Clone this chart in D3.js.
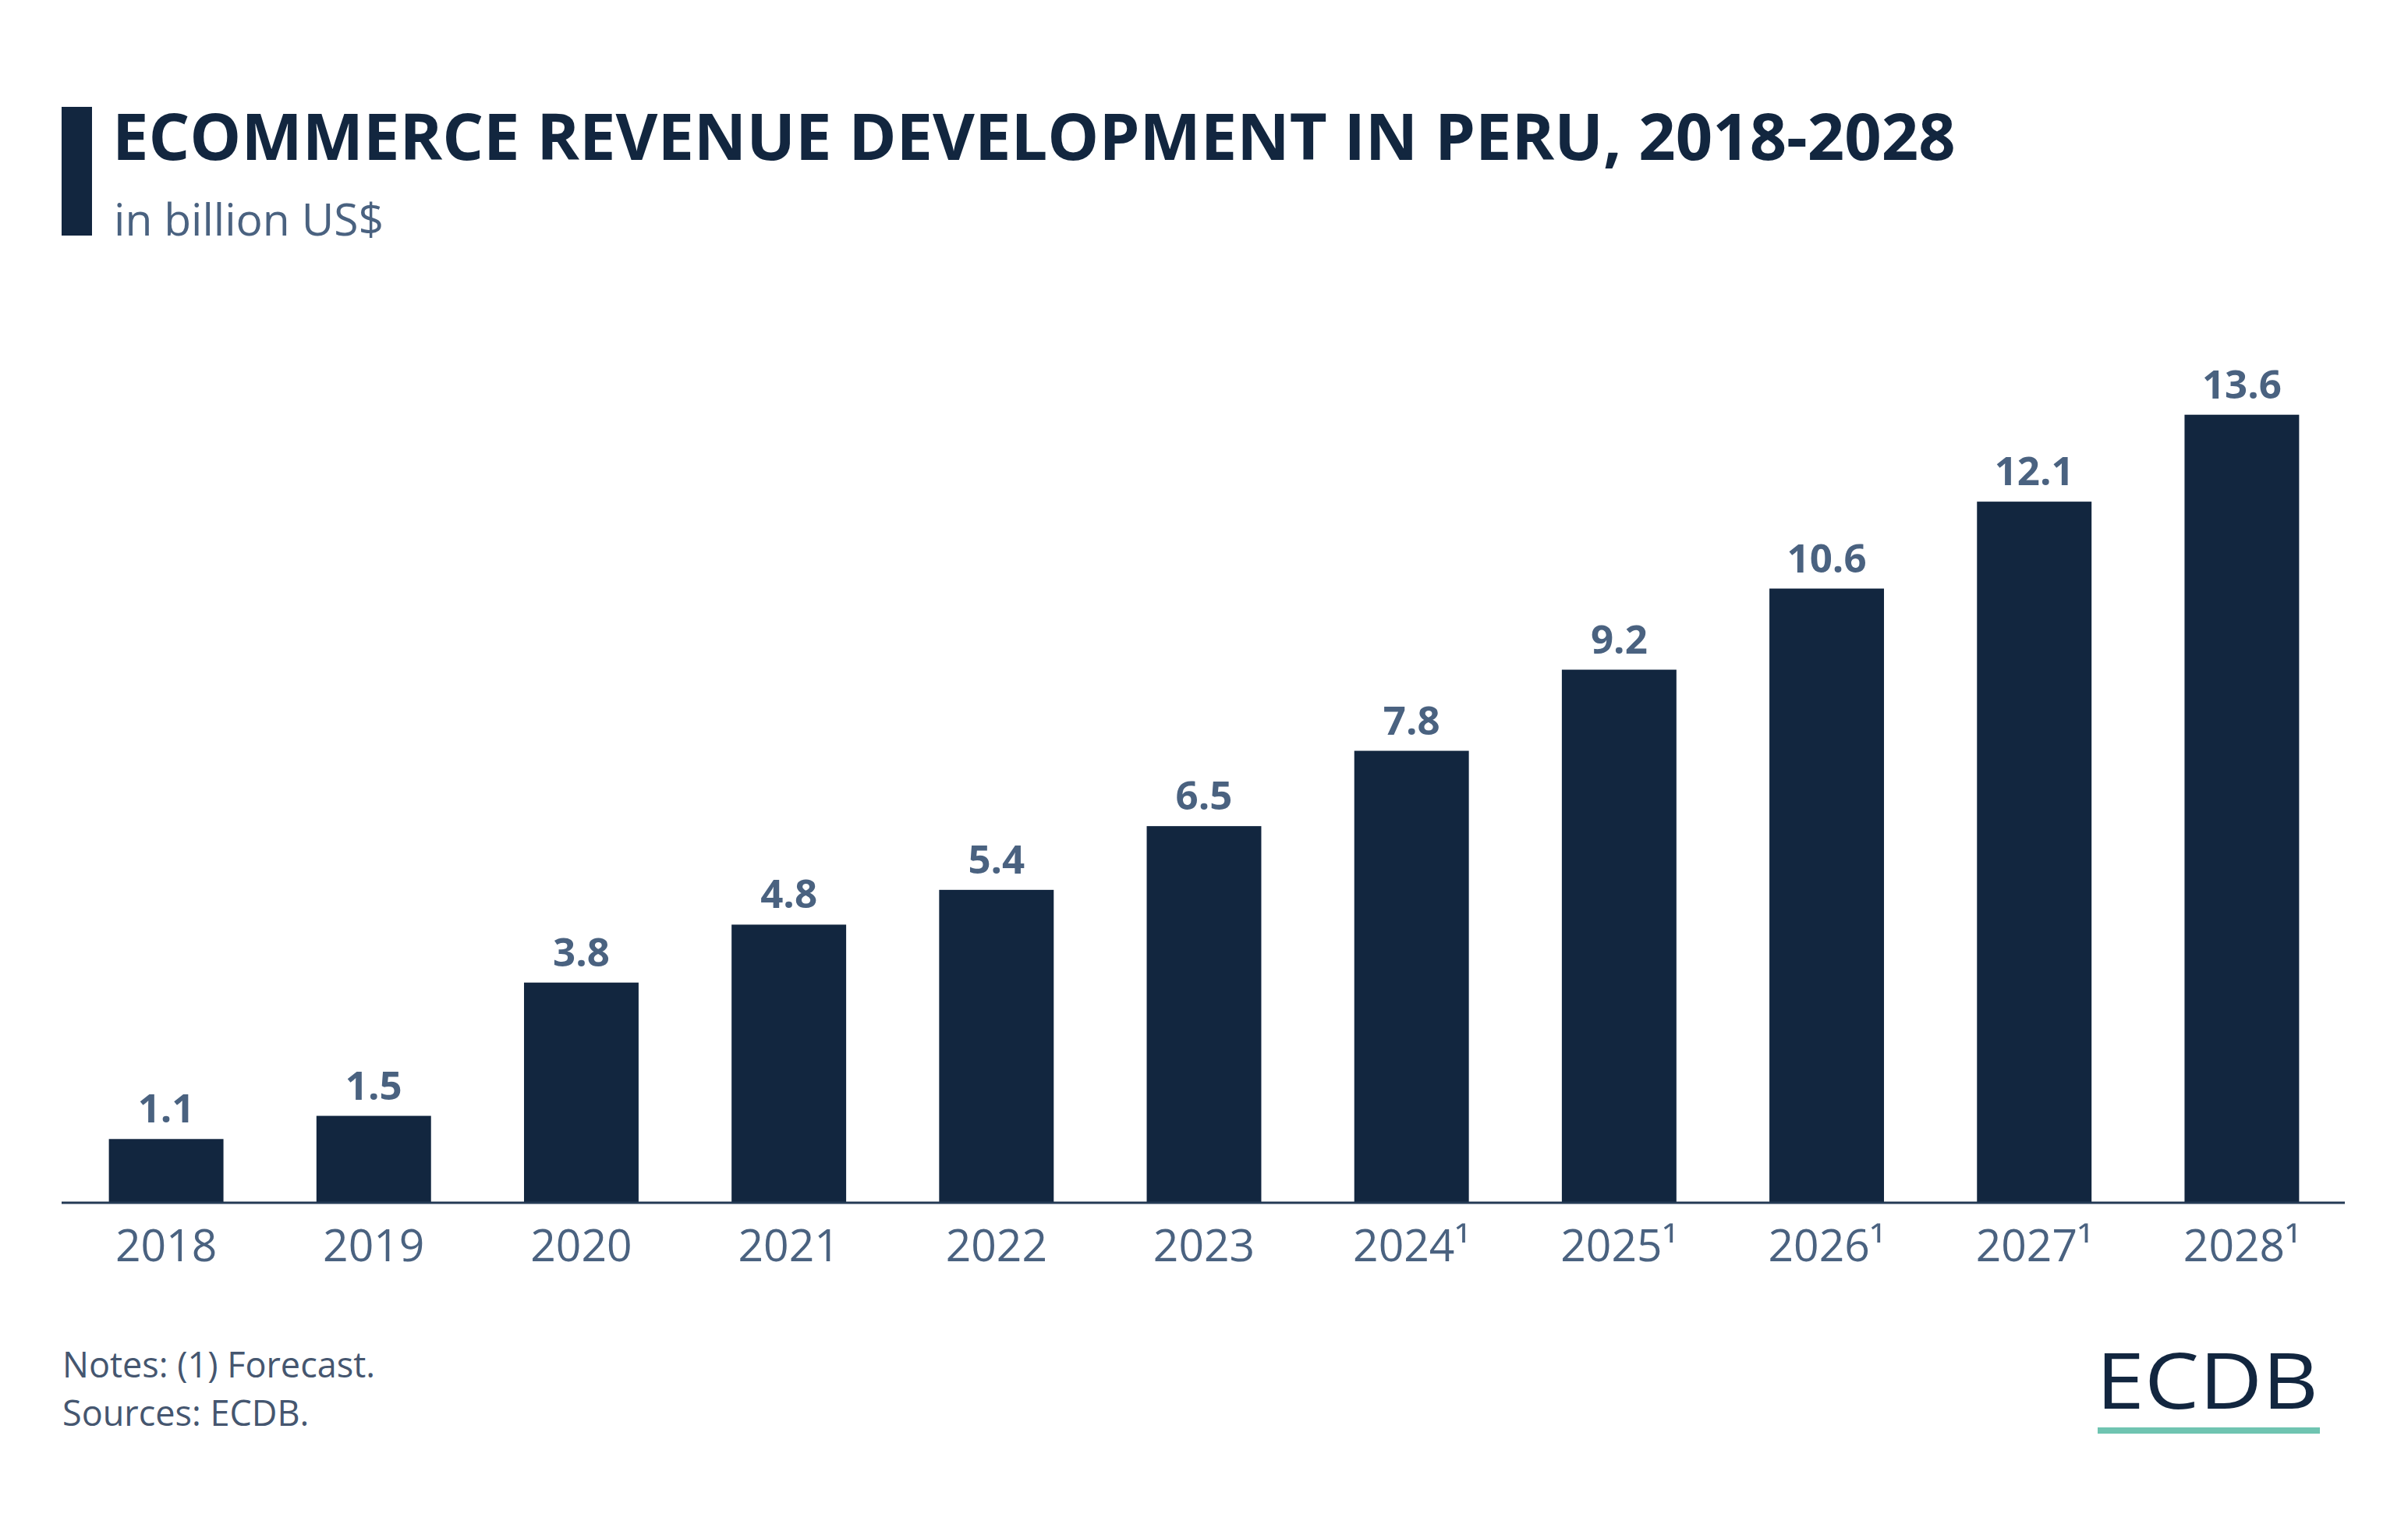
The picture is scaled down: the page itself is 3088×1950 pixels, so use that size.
<!DOCTYPE html>
<html>
<head>
<meta charset="utf-8">
<script src="https://cdn.jsdelivr.net/npm/d3@7"></script>
<style>
  html, body { margin: 0; padding: 0; background: #ffffff; }
  svg text { font-family: "Open Sans", "Noto Sans", sans-serif; }
</style>
</head>
<body>
<svg id="chart" width="3088" height="1950"></svg>
<script>
const categories = ["2018", "2019", "2020", "2021", "2022", "2023", "2024¹", "2025¹", "2026¹", "2027¹", "2028¹"];
const values = [1.1, 1.5, 3.8, 4.8, 5.4, 6.5, 7.8, 9.2, 10.6, 12.1, 13.6];
const valueLabels = ["1.1", "1.5", "3.8", "4.8", "5.4", "6.5", "7.8", "9.2", "10.6", "12.1", "13.6"];

const titleText = "ECOMMERCE REVENUE DEVELOPMENT IN PERU, 2018-2028";
const subtitleText = "in billion US$";
const notesLines = ["Notes: (1) Forecast.", "Sources: ECDB."];

const svg = d3.select("#chart");
const navy = "#12263f";
const slate = "#4a6280";

// Title block
svg.append("rect").attr("x", 79).attr("y", 137).attr("width", 39).attr("height", 165).attr("fill", navy);
svg.append("text").attr("x", 144).attr("y", 205)
  .attr("font-size", 83).attr("font-weight", 700).attr("fill", navy)
  .text(titleText);
svg.append("text").attr("x", 146).attr("y", 302)
  .attr("font-size", 57).attr("font-weight", 400).attr("fill", slate)
  .text(subtitleText);

// Scales
const x = d3.scaleBand().domain(categories).range([80, 3008]).paddingInner(0.448).paddingOuter(0.224);
const y = d3.scaleLinear().domain([0, 13.6]).range([1542, 531.7]);

const data = categories.map((c, i) => ({ c, v: values[i], l: valueLabels[i] }));

svg.append("g").selectAll("rect").data(data).join("rect")
  .attr("x", d => x(d.c)).attr("width", x.bandwidth())
  .attr("y", d => y(d.v)).attr("height", d => y(0) - y(d.v))
  .attr("fill", navy);

svg.append("g").selectAll("text").data(data).join("text")
  .attr("x", d => x(d.c) + x.bandwidth() / 2)
  .attr("y", d => y(d.v) - 21)
  .attr("text-anchor", "middle")
  .attr("font-size", 51).attr("font-weight", 700).attr("fill", slate)
  .text(d => d.l);

// X axis
const xAxis = d3.axisBottom(x).tickSize(0).tickPadding(0);
const gx = svg.append("g").attr("transform", `translate(0,${y(0)})`).call(xAxis);
gx.select(".domain").attr("stroke", "#243a55").attr("stroke-width", 3).attr("d", "M79,0H3007");
gx.selectAll(".tick text")
  .attr("y", 75).attr("dy", 0)
  .attr("font-size", 57).attr("font-family", "'Open Sans', sans-serif")
  .attr("fill", slate);

// Notes
svg.append("g").selectAll("text").data(notesLines).join("text")
  .attr("x", 80).attr("y", (d, i) => 1766 + i * 62)
  .attr("font-size", 45).attr("fill", "#45566f")
  .text(d => d);

// Logo
svg.append("text").attr("x", 2688).attr("y", 1806)
  .attr("font-size", 98).attr("font-family", "Lato, 'Open Sans', sans-serif").attr("font-weight", 400)
  .attr("fill", navy).attr("textLength", 285).attr("lengthAdjust", "spacingAndGlyphs")
  .text("ECDB");
svg.append("rect").attr("x", 2690).attr("y", 1830).attr("width", 285).attr("height", 8).attr("fill", "#6fc4b1");
</script>
</body>
</html>
